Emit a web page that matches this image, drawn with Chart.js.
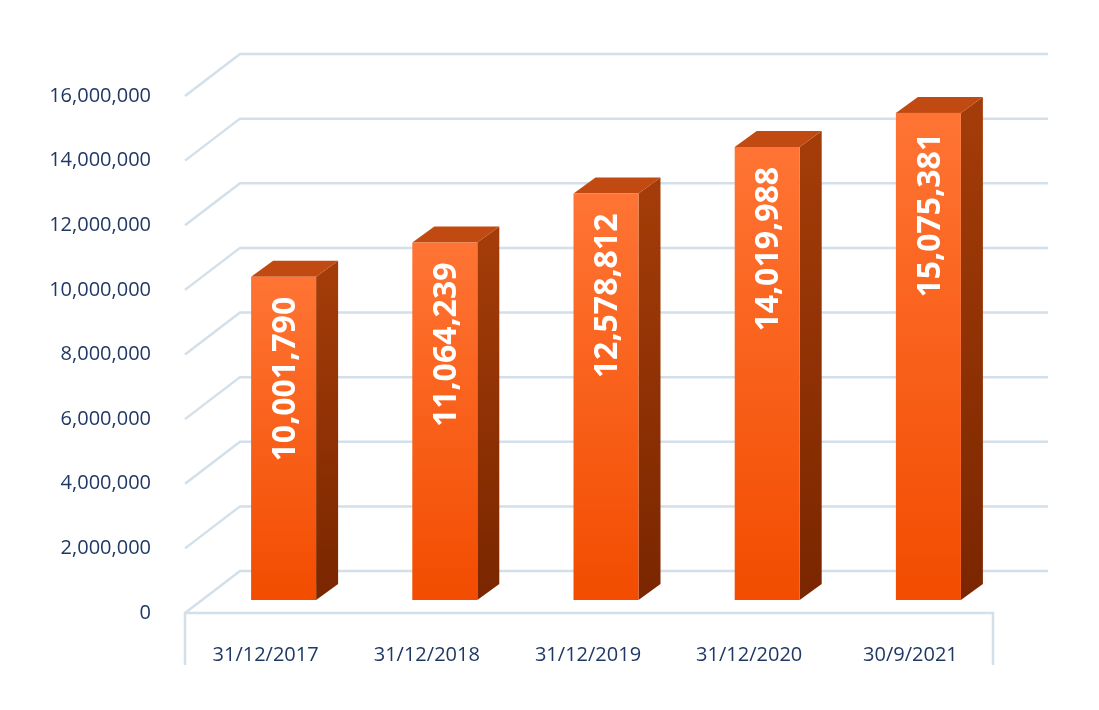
<!DOCTYPE html>
<html><head><meta charset="utf-8">
<script src="https://cdn.jsdelivr.net/npm/chart.js@4"></script>
<style>html,body{margin:0;padding:0;background:#fff}#w{width:1099px;height:710px}</style>
</head><body><div id="w"><canvas id="c"></canvas></div>
<script>
const categories = ["31/12/2017","31/12/2018","31/12/2019","31/12/2020","30/9/2021"];
const values = [10001790, 11064239, 12578812, 14019988, 15075381];
const valueLabels = ["10,001,790","11,064,239","12,578,812","14,019,988","15,075,381"];

const GRID='#d3e0ea';
const bar3d = {
  id:'bar3d',
  beforeDatasetsDraw(chart){
    const ctx=chart.ctx, y=chart.scales.y, a=chart.chartArea;
    ctx.save();
    ctx.strokeStyle=GRID; ctx.lineWidth=2.5;
    for(let v=0; v<=16000000; v+=2000000){
      const yf=y.getPixelForValue(v), yb=yf-42;
      ctx.beginPath(); ctx.moveTo(a.left,yf); ctx.lineTo(a.left+55,yb); ctx.lineTo(1048,yb); ctx.stroke();
    }
    ctx.beginPath(); ctx.moveTo(a.left,665); ctx.lineTo(a.left,a.bottom); ctx.lineTo(a.right+2,a.bottom); ctx.lineTo(a.right+2,665); ctx.stroke();
    // bars
    const meta=chart.getDatasetMeta(0);
    meta.data.forEach((el,i)=>{
      const w=65, cx=el.x+18, top=el.y-13, base=el.base-13;
      const l=cx-w/2, r=cx+w/2, dx=22, dy=16;
      // side
      const gs=ctx.createLinearGradient(0,top,0,base);
      gs.addColorStop(0,'#a33c08'); gs.addColorStop(1,'#7a2600');
      ctx.fillStyle=gs;
      ctx.beginPath(); ctx.moveTo(r,top); ctx.lineTo(r+dx,top-dy); ctx.lineTo(r+dx,base-dy); ctx.lineTo(r,base); ctx.closePath(); ctx.fill();
      // top
      ctx.fillStyle='#c04a12';
      ctx.beginPath(); ctx.moveTo(l,top); ctx.lineTo(l+dx,top-dy); ctx.lineTo(r+dx,top-dy); ctx.lineTo(r,top); ctx.closePath(); ctx.fill();
      // front
      const gf=ctx.createLinearGradient(0,top,0,base);
      gf.addColorStop(0,'#ff7434'); gf.addColorStop(1,'#f24c00');
      ctx.fillStyle=gf; ctx.fillRect(l,top,w,base-top);
      // label
      ctx.save(); ctx.translate(cx+2,top+20); ctx.rotate(-Math.PI/2);
      ctx.fillStyle='#fff'; ctx.font='bold 32px "Open Sans"'; ctx.textAlign='right'; ctx.textBaseline='middle';
      ctx.fillText(valueLabels[i],0,0); ctx.restore();
    });
    ctx.restore();
  }
};

new Chart(document.getElementById('c'),{
  type:'bar',
  data:{labels:categories,datasets:[{data:values,backgroundColor:'rgba(0,0,0,0)',barPercentage:0.4,categoryPercentage:1}]},
  options:{
    responsive:true,maintainAspectRatio:false,animation:false,
    layout:{padding:{top:96,right:108,left:0,bottom:0}},
    plugins:{legend:{display:false},tooltip:{enabled:false}},
    scales:{
      x:{grid:{display:false},border:{display:false},
         ticks:{color:'#1f3864',font:{family:'Open Sans',size:20},padding:22,maxRotation:0},
         afterFit(s){s.height=97;}},
      y:{min:0,max:16000000,grid:{display:false},border:{display:false},
         ticks:{stepSize:2000000,color:'#1f3864',font:{family:'Open Sans',size:20},padding:26,
           callback:v=>v.toLocaleString('en-US')},
         afterFit(s){s.width=185;}}
    }
  },
  plugins:[bar3d]
});
</script></body></html>
